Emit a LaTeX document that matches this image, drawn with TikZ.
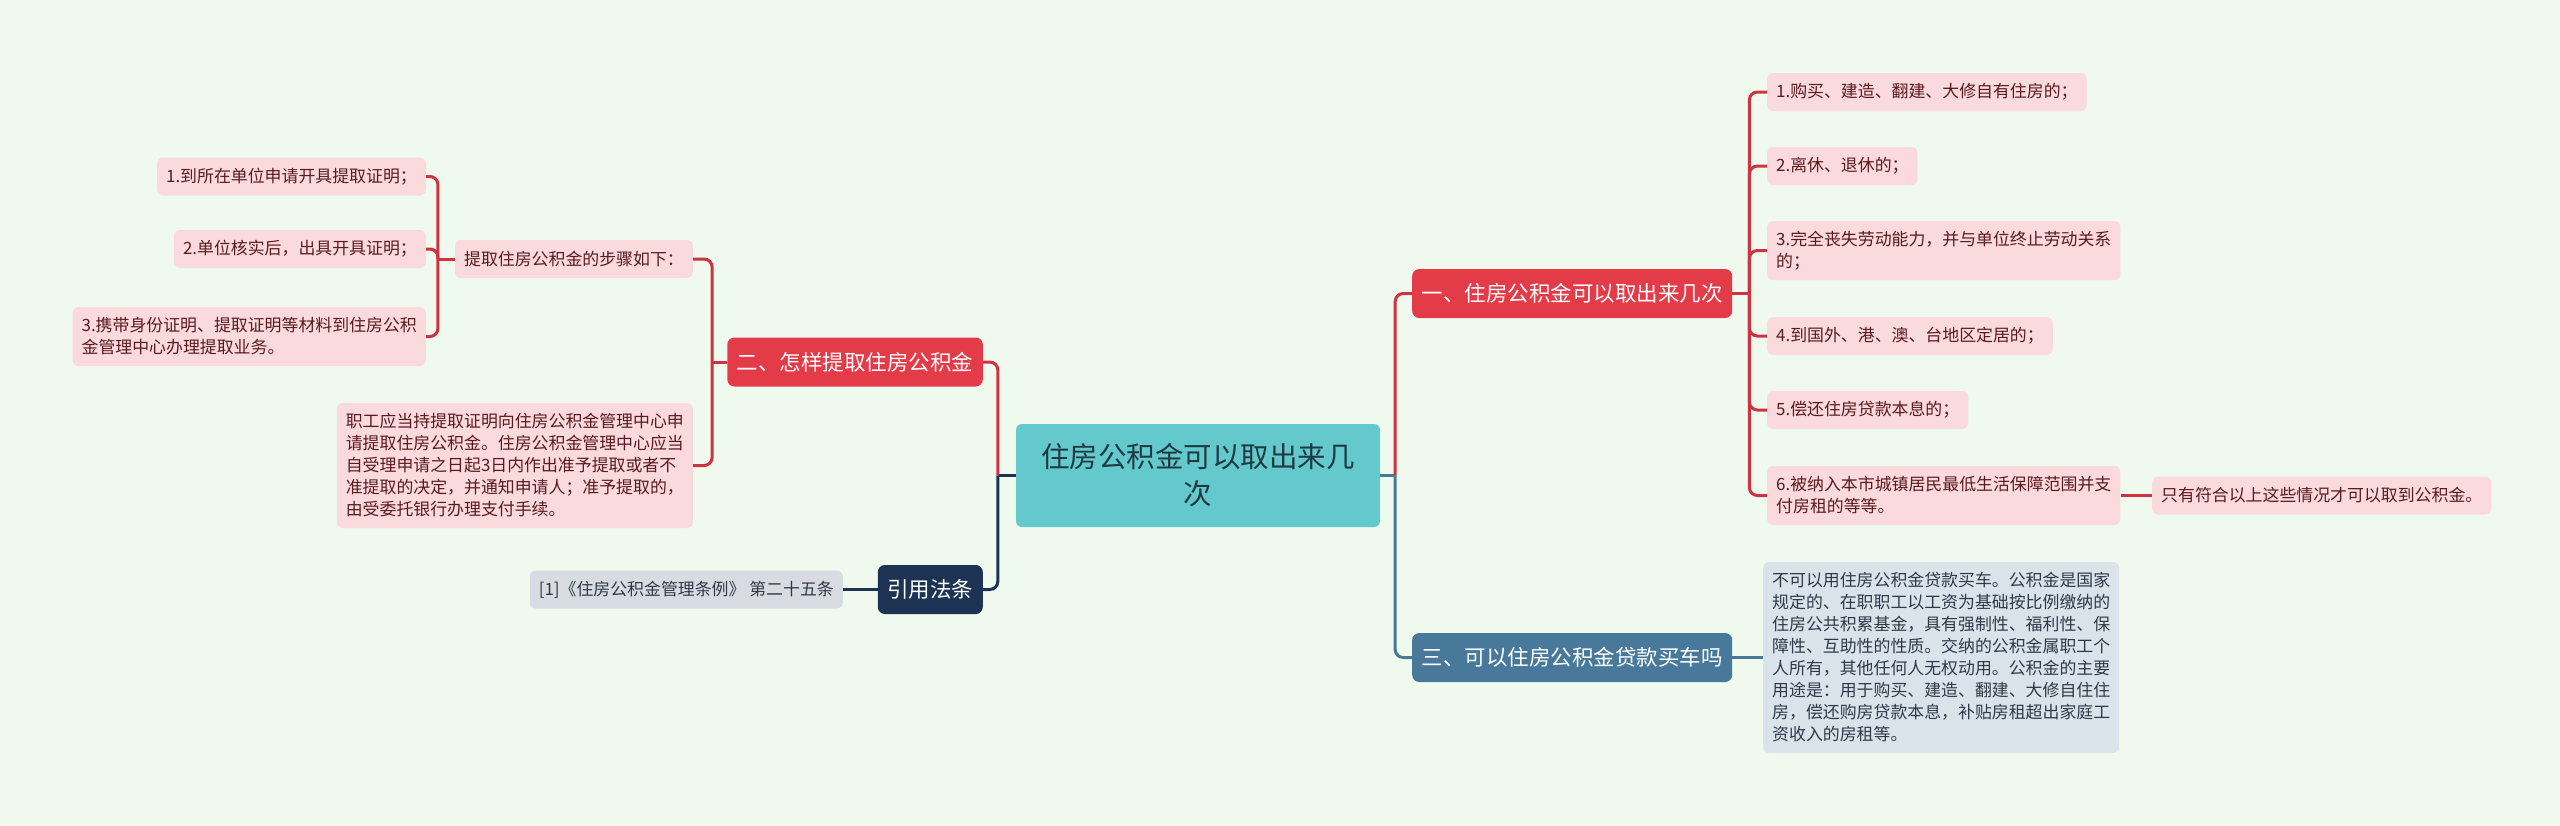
\documentclass[tikz,border=0pt]{standalone}
\usepackage{fontspec}
\setmainfont{Noto Sans CJK SC}
\usetikzlibrary{positioning}

\definecolor{bgmint}{HTML}{EFF9EE}
\definecolor{rootteal}{HTML}{63C9CD}
\definecolor{roottxt}{HTML}{1F3A40}
\definecolor{brred}{HTML}{E33B48}
\definecolor{brblue}{HTML}{48799B}
\definecolor{brnavy}{HTML}{1C3354}
\definecolor{leafpink}{HTML}{FADADD}
\definecolor{leaftxt}{HTML}{5A1A20}
\definecolor{carfill}{HTML}{DAE3EA}
\definecolor{lawfill}{HTML}{D8DCE2}
\definecolor{greytxt}{HTML}{2E3A48}
\definecolor{lnred}{HTML}{CE3340}

\begin{document}
\begin{tikzpicture}[x=1pt, y=-1pt,
    root/.style={fill=rootteal, text=roottxt, rounded corners=6pt, align=center,
      font=\fontsize{28.5}{37}\selectfont, minimum width=364pt, minimum height=103pt, inner sep=0pt},
    branch/.style={text=white, rounded corners=7pt, font=\fontsize{21.5}{26}\selectfont,
      inner xsep=9.5pt, inner ysep=0pt, minimum height=49pt},
    leaf/.style={fill=leafpink, text=leaftxt, rounded corners=6pt, align=left,
      font=\fontsize{16.9}{22}\selectfont, inner xsep=9pt, inner ysep=0pt, minimum height=38pt},
    gleaf/.style={leaf, fill=lawfill, text=greytxt},
    redln/.style={draw=lnred, line width=3pt},
    blueln/.style={draw=brblue, line width=3pt},
    navyln/.style={draw=brnavy, line width=3pt},
    rc/.style={rounded corners=8pt}]
\fill[bgmint] (0,0) rectangle (2560,825);
\useasboundingbox (0,0) rectangle (2560,825);

%% centre
\node[root] (root) at (1198,475.5) {住房公积金可以取出来几\\次};

%% branches
\node[branch, fill=brred, anchor=west] (b1) at (1412,293.5) {一、住房公积金可以取出来几次};
\node[branch, fill=brblue, anchor=west] (b3) at (1412,657.5) {三、可以住房公积金贷款买车吗};
\node[branch, fill=brred, anchor=east] (b2) at (983,362) {二、怎样提取住房公积金};
\node[branch, fill=brnavy, anchor=east] (law) at (983,589.5) {引用法条};

%% right: cases
\node[leaf, anchor=west] (c1) at (1767,92) {1.购买、建造、翻建、大修自有住房的；};
\node[leaf, anchor=west] (c2) at (1767,166) {2.离休、退休的；};
\node[leaf, anchor=west, minimum height=59pt] (c3) at (1767,250.5)
  {3.完全丧失劳动能力，并与单位终止劳动关系\\的；};
\node[leaf, anchor=west] (c4) at (1767,336) {4.到国外、港、澳、台地区定居的；};
\node[leaf, anchor=west] (c5) at (1767,410) {5.偿还住房贷款本息的；};
\node[leaf, anchor=west, minimum height=59pt] (c6) at (1767,495.5)
  {6.被纳入本市城镇居民最低生活保障范围并支\\付房租的等等。};
\node[leaf, anchor=west] (c6x) at (2152,495.5) {只有符合以上这些情况才可以取到公积金。};

%% right: car loan
\node[gleaf, fill=carfill, anchor=west, minimum height=191pt] (car) at (1763,657.5)
  {不可以用住房公积金贷款买车。公积金是国家\\规定的、在职职工以工资为基础按比例缴纳的\\住房公共积累基金，具有强制性、福利性、保\\障性、互助性的性质。交纳的公积金属职工个\\人所有，其他任何人无权动用。公积金的主要\\用途是：用于购买、建造、翻建、大修自住住\\房，偿还购房贷款本息，补贴房租超出家庭工\\资收入的房租等。};

%% left: how to withdraw
\node[leaf, anchor=east] (step) at (693,259) {提取住房公积金的步骤如下：};
\node[leaf, anchor=east, minimum height=125pt] (para) at (693,465.5)
  {职工应当持提取证明向住房公积金管理中心申\\请提取住房公积金。住房公积金管理中心应当\\自受理申请之日起3日内作出准予提取或者不\\准提取的决定，并通知申请人；准予提取的，\\由受委托银行办理支付手续。};
\node[leaf, anchor=east] (s1) at (426,176.5) {1.到所在单位申请开具提取证明；};
\node[leaf, anchor=east] (s2) at (426,249) {2.单位核实后，出具开具证明；};
\node[leaf, anchor=east, minimum height=59pt] (s3) at (426,336.5)
  {3.携带身份证明、提取证明等材料到住房公积\\金管理中心办理提取业务。};

%% left: law
\node[gleaf, anchor=east] (lawref) at (843,589.5) {[1]《住房公积金管理条例》 第二十五条};

%% connectors
\path (root.east) ++(15,0) coordinate (rj);
\draw[blueln] (root.east) -- (rj);
\draw[redln, rc] (rj) |- (b1.west);
\draw[blueln, rc] (rj) |- (b3.west);
\path (root.west) ++(-18,0) coordinate (lj);
\draw[navyln] (root.west) -- (lj);
\draw[redln, rc] (lj) |- (b2.east);
\draw[navyln, rc] (lj) |- (law.east);

\path (b1.east) ++(17,0) coordinate (b1j);
\draw[redln] (b1.east) -- (b1j);
\foreach \i in {1,...,6}{ \draw[redln, rc] (b1j) |- (c\i.west); }
\draw[redln] (c6.east) -- (c6x.west);
\draw[blueln] (b3.east) -- (car.west);

\path (b2.west) ++(-15,0) coordinate (b2j);
\draw[redln] (b2.west) -- (b2j);
\foreach \n in {step,para}{ \draw[redln, rc] (b2j) |- (\n.east); }
\path (step.west) ++(-17,0) coordinate (sj);
\draw[redln] (step.west) -- (sj);
\foreach \i in {1,2,3}{ \draw[redln, rc] (sj) |- (s\i.east); }
\draw[navyln] (law.west) -- (lawref.east);
\end{tikzpicture}
\end{document}
